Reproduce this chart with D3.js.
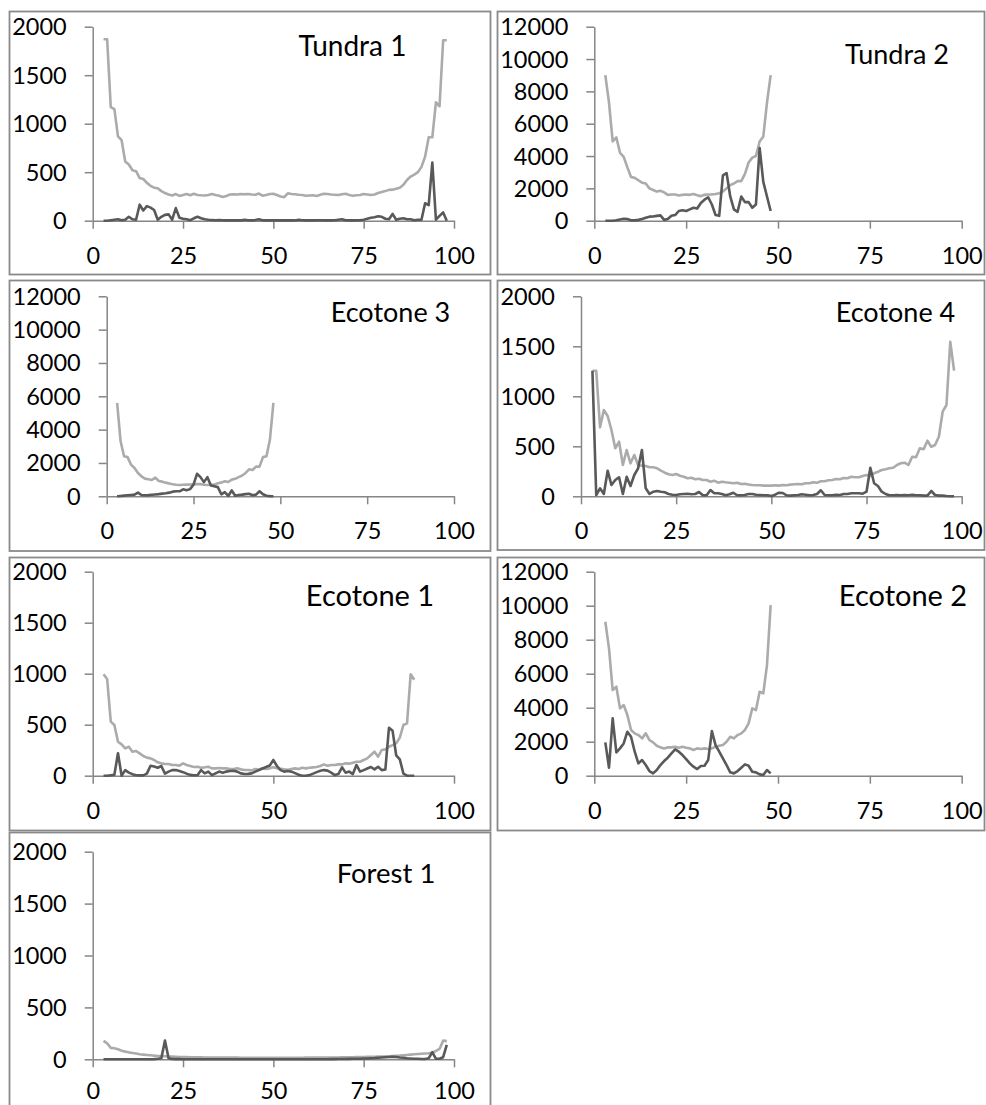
<!DOCTYPE html>
<html>
<head>
<meta charset="utf-8">
<script src="https://cdn.jsdelivr.net/npm/d3@7"></script>
<style>
  body { margin: 0; background: #fff; }
  svg { display: block; }
</style>
</head>
<body>
<div id="chart"></div>
<script>
// x categories (one point per integer step)
const X_3_98 = [3,4,5,6,7,8,9,10,11,12,13,14,15,16,17,18,19,20,21,22,23,24,25,26,27,28,29,30,31,32,33,34,35,36,37,38,39,40,41,42,43,44,45,46,47,48,49,50,51,52,53,54,55,56,57,58,59,60,61,62,63,64,65,66,67,68,69,70,71,72,73,74,75,76,77,78,79,80,81,82,83,84,85,86,87,88,89,90,91,92,93,94,95,96,97,98];
const X_3_48 = [3,4,5,6,7,8,9,10,11,12,13,14,15,16,17,18,19,20,21,22,23,24,25,26,27,28,29,30,31,32,33,34,35,36,37,38,39,40,41,42,43,44,45,46,47,48];
const X_3_89 = [3,4,5,6,7,8,9,10,11,12,13,14,15,16,17,18,19,20,21,22,23,24,25,26,27,28,29,30,31,32,33,34,35,36,37,38,39,40,41,42,43,44,45,46,47,48,49,50,51,52,53,54,55,56,57,58,59,60,61,62,63,64,65,66,67,68,69,70,71,72,73,74,75,76,77,78,79,80,81,82,83,84,85,86,87,88,89];

// tick labels
const X_TICKS_25 = [0, 25, 50, 75, 100];
const X_TICKS_50 = [0, 50, 100];
const Y_TICKS_2000 = [0, 500, 1000, 1500, 2000];
const Y_TICKS_12000 = [0, 2000, 4000, 6000, 8000, 10000, 12000];

const TITLES = ['Tundra 1', 'Tundra 2', 'Ecotone 3', 'Ecotone 4', 'Ecotone 1', 'Ecotone 2', 'Forest 1'];

// Tundra 1
const TUNDRA1_LIGHT = [1870,1870,1170,1150,870,830,610,580,520,510, 440,430,390,360,340,335,305,285,270,260, 275,255,265,275,262,278,265,262,260,265, 275,265,258,245,255,270,272,270,275,272, 275,270,268,280,258,265,275,278,265,250, 242,282,275,272,268,265,258,260,262,255, 268,278,275,270,268,265,272,278,265,258, 262,265,275,270,265,270,285,295,305,318, 320,330,340,370,420,455,475,500,555,660, 860,860,1220,1180,1860,1860];
const TUNDRA1_DARK = [0,0,5,10,15,5,10,40,15,10, 165,105,150,135,110,10,40,60,65,10, 130,30,20,15,5,25,40,25,15,10, 8,5,8,5,3,5,3,5,3,10, 5,3,8,15,5,3,5,3,5,3, 3,5,3,3,10,5,3,5,3,5, 5,3,5,3,5,10,15,5,3,5, 3,5,10,20,30,35,45,40,20,15, 70,10,20,25,15,15,5,10,10,180, 160,600,10,50,85,0];

// Tundra 2
const TUNDRA2_LIGHT = [9000,7300,4900,5150,4200,3950,3300,2700,2650,2500, 2350,2300,2000,1900,1800,1850,1750,1600,1620,1620, 1560,1600,1620,1600,1650,1580,1520,1600,1620,1620, 1650,1700,1800,2000,2200,2300,2450,2450,2900,3600, 3900,4000,4900,5200,7300,9000];
const TUNDRA2_DARK = [0,0,0,30,80,120,100,30,20,50, 100,180,250,260,300,330,50,100,300,350, 600,650,600,700,800,750,1100,1300,1450,1000, 350,300,2800,2950,1500,700,550,1500,1150,1150, 800,1000,4500,2400,1500,600];

// Ecotone 3
const ECOTONE3_LIGHT = [5600,3300,2400,2350,1900,1700,1400,1200,1060,1020, 980,1120,920,880,820,770,720,690,680,690, 700,710,720,740,730,690,680,690,700,780, 820,900,860,1000,1050,1150,1250,1400,1620,1580, 1780,1780,2350,2400,3400,5600];
const ECOTONE3_DARK = [0,20,40,60,80,100,220,80,60,70, 90,110,130,160,180,220,280,300,300,420, 360,430,700,1350,1150,850,1150,650,600,550, 120,250,20,350,30,80,100,130,150,60, 100,300,120,30,10,0];

// Ecotone 4
const ECOTONE4_LIGHT = [1256,1256,690,863,803,663,480,546,313,463, 330,413,313,305,303,290,290,280,256,236, 220,213,223,206,196,180,186,170,176,163, 163,146,156,136,146,140,136,130,136,123, 126,117,113,110,110,107,107,107,110,107, 113,110,117,120,123,120,130,130,140,136, 150,150,160,163,173,170,183,180,196,190, 190,203,213,203,230,246,263,270,280,286, 313,330,336,313,396,390,480,470,556,496, 513,596,846,913,1545,1256];
const ECOTONE4_DARK = [1256,13,80,23,256,113,163,190,23,196, 103,213,280,463,80,23,46,53,46,40, 23,16,13,20,23,26,20,23,43,10, 10,63,30,30,23,10,20,36,10,10, 13,23,23,16,13,10,10,3,16,36, 33,10,7,10,13,20,16,10,13,23, 60,13,10,10,16,13,23,23,30,30, 30,26,46,286,130,103,46,23,10,10, 13,10,13,10,16,10,10,7,7,53, 13,7,7,3,0,0];

// Ecotone 1
const ECOTONE1_LIGHT = [994,948,530,497,333,307,268,284,235,242, 219,193,177,170,154,131,121,114,114,105, 105,98,121,105,95,85,88,78,82,88, 72,72,75,72,72,65,65,72,62,56, 56,52,65,60,72,65,72,82,72,68, 62,58,65,72,65,78,72,78,82,85, 95,111,98,105,105,111,111,121,118,128, 137,137,154,170,203,235,186,252,258,284, 300,317,373,497,513,994,940];
const ECOTONE1_DARK = [0,0,5,10,220,0,55,30,15,5, 3,3,20,98,90,78,95,20,40,55, 55,45,35,20,8,5,5,55,23,40, 6,23,40,30,40,46,49,40,23,16, 18,23,40,55,70,85,100,154,95,55, 40,46,40,25,10,0,0,6,20,35, 48,55,50,30,6,16,82,30,40,16, 105,40,55,70,85,62,88,55,60,470, 440,200,160,20,0,0,0];

// Ecotone 2
const ECOTONE2_LIGHT = [9055,7490,5040,5235,3960,4155,3570,2690,2490,2390, 2195,2490,2100,1960,1765,1666,1607,1666,1666,1705, 1646,1705,1646,1607,1510,1607,1570,1607,1570,1607, 1705,1765,1803,2000,2293,2195,2390,2490,2690,3080, 3960,3860,4940,4840,6500,10035];
const ECOTONE2_DARK = [1960,470,3370,1372,1607,1900,2587,2293,1411,725, 921,627,274,137,333,627,862,1058,1313,1548, 1411,1215,980,725,529,392,568,588,921,2626, 1803,1411,1019,627,196,137,274,470,666,588, 235,196,78,39,333,137];

// Forest 1
const FOREST1_LIGHT = [178,154,110,106,96,83,74,67,61,55, 48,45,42,39,35,32,32,29,26,26, 24,22,22,21,20,20,19,19,18,18, 17,17,17,16,16,16,16,16,15,15, 15,15,14,14,14,14,14,14,14,14, 14,14,14,15,15,15,16,16,16,16, 17,17,17,18,18,18,19,19,20,20, 21,22,22,23,24,25,26,27,28,30, 32,34,36,39,42,45,48,51,54,56, 58,64,80,100,180,175];
const FOREST1_DARK = [0,0,0,0,0,0,0,0,0,0, 0,0,0,0,2,5,10,180,10,3, 2,2,0,0,0,0,0,0,0,0, 0,0,0,0,0,0,0,0,0,0, 0,0,0,0,0,0,0,0,0,0, 0,0,0,0,0,0,0,0,0,0, 0,0,0,2,2,3,3,3,4,5, 5,6,7,8,10,12,15,18,20,22, 25,22,18,15,10,8,5,5,3,3, 10,70,5,5,20,140];

const LIGHT_COLOR = '#ababab';
const DARK_COLOR = '#595959';
const AXIS_COLOR = '#868686';
const FONT = 'Lato, "Open Sans", sans-serif';

// panel layout (pixels)
const layout = [
  { frame: [9.5, 11.5, 481, 263], x0: 92.7, x1: 454, y0: 220.7, y1: 26.7, tx: 352.5, ty: 56, ts: 28, lab: 35 },
  { frame: [497.5, 11.5, 487, 263], x0: 594.3, x1: 961.7, y0: 220.7, y1: 26.7, tx: 897, ty: 63.5, ts: 27, lab: 35 },
  { frame: [9.5, 280.5, 481, 270.5], x0: 106.7, x1: 454, y0: 496.3, y1: 296.3, tx: 390.5, ty: 322, ts: 27, lab: 35 },
  { frame: [497.5, 280.5, 487, 269.5], x0: 581, x1: 961.7, y0: 496.3, y1: 296.3, tx: 895.5, ty: 322, ts: 27, lab: 35 },
  { frame: [9.5, 557.5, 481, 273], x0: 92.7, x1: 454, y0: 775.7, y1: 571.7, tx: 370, ty: 605.7, ts: 29, lab: 35 },
  { frame: [497.5, 557.5, 487, 273], x0: 594.3, x1: 961.7, y0: 775.7, y1: 571.7, tx: 903, ty: 605.5, ts: 29, lab: 35 },
  { frame: [9.5, 832.5, 481, 290], x0: 92.7, x1: 454, y0: 1059.3, y1: 851.7, tx: 386, ty: 882.7, ts: 27.5, lab: 32 }
];

const panels = [
  { xs: X_3_98, light: TUNDRA1_LIGHT, dark: TUNDRA1_DARK, yTicks: Y_TICKS_2000, xTicks: X_TICKS_25 },
  { xs: X_3_48, light: TUNDRA2_LIGHT, dark: TUNDRA2_DARK, yTicks: Y_TICKS_12000, xTicks: X_TICKS_25 },
  { xs: X_3_48, light: ECOTONE3_LIGHT, dark: ECOTONE3_DARK, yTicks: Y_TICKS_12000, xTicks: X_TICKS_25 },
  { xs: X_3_98, light: ECOTONE4_LIGHT, dark: ECOTONE4_DARK, yTicks: Y_TICKS_2000, xTicks: X_TICKS_25 },
  { xs: X_3_89, light: ECOTONE1_LIGHT, dark: ECOTONE1_DARK, yTicks: Y_TICKS_2000, xTicks: X_TICKS_50 },
  { xs: X_3_48, light: ECOTONE2_LIGHT, dark: ECOTONE2_DARK, yTicks: Y_TICKS_12000, xTicks: X_TICKS_25 },
  { xs: X_3_98, light: FOREST1_LIGHT, dark: FOREST1_DARK, yTicks: Y_TICKS_2000, xTicks: X_TICKS_25 }
];

const svg = d3.select('#chart').append('svg')
  .attr('width', 986)
  .attr('height', 1105)
  .style('font-family', FONT);

panels.forEach((p, i) => {
  const L = layout[i];
  const g = svg.append('g').attr('class', 'panel');

  g.append('rect')
    .attr('x', L.frame[0]).attr('y', L.frame[1])
    .attr('width', L.frame[2]).attr('height', L.frame[3])
    .attr('fill', '#fff')
    .attr('stroke', '#8a8a8a')
    .attr('stroke-width', 1.8);

  const x = d3.scaleLinear().domain([0, 100]).range([L.x0, L.x1]);
  const y = d3.scaleLinear().domain([0, d3.max(p.yTicks)]).range([L.y0, L.y1]);

  // y axis
  const yAxis = g.append('g')
    .attr('transform', `translate(${L.x0},0)`)
    .call(d3.axisLeft(y).tickValues(p.yTicks).tickFormat(d3.format('d'))
      .tickSizeInner(8).tickSizeOuter(0));
  yAxis.selectAll('text')
    .attr('x', -26)
    .attr('dy', '0.34em')
    .attr('fill', '#000')
    .style('font-size', '23.5px')
    .style('font-family', FONT);

  // x axis
  const xAxis = g.append('g')
    .attr('transform', `translate(0,${L.y0})`)
    .call(d3.axisBottom(x).tickValues(p.xTicks).tickFormat(d3.format('d'))
      .tickSizeInner(8).tickSizeOuter(0));
  xAxis.selectAll('text')
    .attr('y', L.lab)
    .attr('dy', '0.34em')
    .attr('fill', '#000')
    .style('font-size', '23.5px')
    .style('font-family', FONT);

  [yAxis, xAxis].forEach(a => {
    a.select('.domain').attr('stroke', AXIS_COLOR).attr('stroke-width', 1.5);
    a.selectAll('.tick line').attr('stroke', AXIS_COLOR).attr('stroke-width', 1.5);
  });

  const line = d3.line()
    .x((d, k) => x(p.xs[k]))
    .y(d => y(d));

  g.append('path')
    .datum(p.light)
    .attr('d', line)
    .attr('fill', 'none')
    .attr('stroke', LIGHT_COLOR)
    .attr('stroke-width', 2.6)
    .attr('stroke-linejoin', 'round');

  g.append('path')
    .datum(p.dark)
    .attr('d', line)
    .attr('fill', 'none')
    .attr('stroke', DARK_COLOR)
    .attr('stroke-width', 2.6)
    .attr('stroke-linejoin', 'round');

  g.append('text')
    .attr('x', L.tx)
    .attr('y', L.ty)
    .attr('text-anchor', 'middle')
    .style('font-size', L.ts + 'px')
    .attr('fill', '#000')
    .text(TITLES[i]);
});
</script>
</body>
</html>
